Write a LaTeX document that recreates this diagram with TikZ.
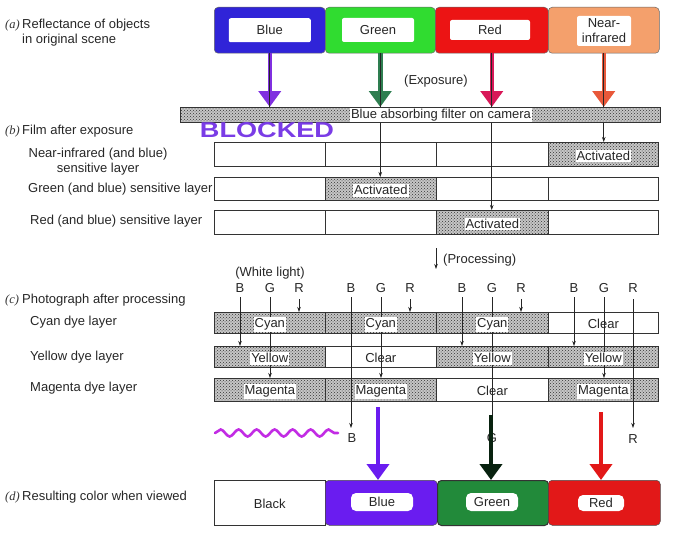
\documentclass[tikz,border=0pt]{standalone}
\usepackage{fontspec}
\setmainfont{Liberation Sans}
\newfontfamily\lserif{Liberation Serif}
\usetikzlibrary{arrows.meta,decorations.pathmorphing,patterns}
\definecolor{tBlue}{HTML}{3024D8}
\definecolor{tGreen}{HTML}{30DC30}
\definecolor{tRed}{HTML}{EC1414}
\definecolor{tNir}{HTML}{F4A06C}
\definecolor{aPurple}{HTML}{8030E0}
\definecolor{aGreen}{HTML}{2E7E50}
\definecolor{aRed}{HTML}{D81858}
\definecolor{aNir}{HTML}{E8583A}
\definecolor{bBlue}{HTML}{6A1CF0}
\definecolor{bGreen}{HTML}{228A3A}
\definecolor{bRed}{HTML}{E21818}
\definecolor{blk}{HTML}{7A3CE6}
\definecolor{wave}{HTML}{C22CE4}
\tikzset{
  txt/.style={font=\fontsize{13}{15}\selectfont, inner sep=0pt, text=black!85, yshift=-1.5pt},
  sec/.style={font=\lserif\itshape\fontsize{12.5}{15}\selectfont, inner sep=0pt, text=black!80, yshift=-1.5pt},
  cell/.style={draw=black!80, line width=0.6pt, anchor=north west, inner sep=0pt},
  stip/.style={fill=gray!45, postaction={pattern=crosshatch dots, pattern color=black!80}},
  tag/.style={txt, fill=white, inner xsep=1pt, inner ysep=1.5pt},
  ray/.style={line width=0.55pt, black!85, -{Stealth[length=5pt,width=3.5pt]}},
  line/.style={line width=0.55pt, black!85},
  topbox/.style={anchor=north west, minimum width=#1, minimum height=46pt, rounded corners=4pt, draw=black!60, line width=0.5pt},
  inlab/.style={txt, fill=white, rounded corners=2pt},
  fat/.style={line width=4.5pt, -{Triangle[length=16pt,width=22pt]}},
}
\begin{document}
\begin{tikzpicture}[x=1pt,y=-1pt]
\useasboundingbox (0,0) rectangle (680,535);
% ---------- (a)
\node[sec, anchor=west] (sa) at (5,24) {(a)};
\node[txt, anchor=west, align=left] (ta) at (22,31.5) {Reflectance of objects\\in original scene};
\node[topbox=111pt, fill=tBlue] (aB) at (214,7) {};
\node[topbox=110pt, fill=tGreen] (aG) at (325,7) {};
\node[topbox=113pt, fill=tRed] (aR) at (435,7) {};
\node[topbox=111pt, fill=tNir] (aN) at (548,7) {};
\node[inlab, minimum width=82pt, minimum height=24pt, yshift=1.5pt] (aBl) at (aB.center) {Blue};
\node[inlab, minimum width=72pt, minimum height=24pt, yshift=1.5pt] (aGl) at (378,30) {Green};
\node[inlab, minimum width=80pt, minimum height=20pt, yshift=1.5pt] (aRl) at (490,30) {Red};
\node[inlab, minimum width=54pt, minimum height=30pt, align=center, yshift=1.5pt] (aNl) at (604,31) {Near-\\infrared};
\node[txt] (expo) at (436,80) {(Exposure)};
% filter
\node[cell, stip, minimum width=480pt, minimum height=15pt] (filt) at (180,107) {};
\node[tag, inner ysep=1pt, yshift=1.5pt] (filtl) at (441,115) {Blue absorbing filter on camera};
% hand-drawn arrows top
\draw[fat, aPurple] (aB.south) -- (aB.south |- filt.north);
\draw[fat, aGreen] (aG.south) -- (aG.south |- filt.north);
\draw[fat, aRed] (aR.south) -- (aR.south |- filt.north);
\draw[fat, aNir] (aN.south) -- (aN.south |- filt.north);
\draw[line] (aB.south) -- (aB.south |- filt.north);
\draw[line] (aG.south) -- (aG.south |- filt.north);
\draw[line] (aR.south) -- (aR.south |- filt.north);
\draw[line] (aN.south) -- (aN.south |- filt.north);
\node[inner sep=0pt, text=blk] (blocked) at (267,130) {\resizebox{134pt}{15pt}{\bfseries BLOCKED}};
% ---------- (b)
\node[sec, anchor=west] (sb) at (5,130) {(b)};
\node[txt, anchor=west] (tb) at (22,130) {Film after exposure};
\node[txt, align=center] (lb1) at (98,160) {Near-infrared (and blue)\\sensitive layer};
\node[txt, anchor=west] (lb2) at (28,188) {Green (and blue) sensitive layer};
\node[txt, anchor=west] (lb3) at (30,220) {Red (and blue) sensitive layer};
% row 1
\node[cell, minimum width=111pt, minimum height=24pt] (b11) at (214,142) {};
\node[cell, minimum width=111pt, minimum height=24pt] (b12) at (325,142) {};
\node[cell, minimum width=112pt, minimum height=24pt] (b13) at (436,142) {};
\node[cell, stip, minimum width=110pt, minimum height=24pt] (b14) at (548,142) {};
\node[tag] at (b14.center) {Activated};
% row 2
\node[cell, minimum width=111pt, minimum height=23pt] (b21) at (214,177) {};
\node[cell, stip, minimum width=111pt, minimum height=23pt] (b22) at (325,177) {};
\node[cell, minimum width=112pt, minimum height=23pt] (b23) at (436,177) {};
\node[cell, minimum width=110pt, minimum height=23pt] (b24) at (548,177) {};
\node[tag] at (b22.center) {Activated};
% row 3
\node[cell, minimum width=111pt, minimum height=24pt] (b31) at (214,210) {};
\node[cell, minimum width=111pt, minimum height=24pt] (b32) at (325,210) {};
\node[cell, stip, minimum width=112pt, minimum height=24pt] (b33) at (436,210) {};
\node[cell, minimum width=110pt, minimum height=24pt] (b34) at (548,210) {};
\node[tag] at (b33.center) {Activated};
% exposure rays
\draw[ray] (aG.south |- filt.south) -- (aG.south |- b22.north);
\draw[ray] (aR.south |- filt.south) -- (aR.south |- b33.north);
\draw[ray] (aN.south |- filt.south) -- (aN.south |- b14.north);
% processing
\coordinate (p1) at (436,248);
\coordinate (p2) at (436,269);
\draw[ray] (p1) -- (p2);
\node[txt, anchor=west] (proc) at (443,259) {(Processing)};
% ---------- (c)
\node[sec, anchor=west] (sc) at (5,299) {(c)};
\node[txt, anchor=west] (tc) at (22,299) {Photograph after processing};
\node[txt, anchor=west] (lc1) at (30,321) {Cyan dye layer};
\node[txt, anchor=west] (lc2) at (30,356) {Yellow dye layer};
\node[txt, anchor=west] (lc3) at (30,387) {Magenta dye layer};
\node[txt] (wl) at (270,272) {(White light)};
% cyan row
\node[cell, stip, minimum width=111pt, minimum height=21pt] (c11) at (214,312) {};
\node[cell, stip, minimum width=111pt, minimum height=21pt] (c12) at (325,312) {};
\node[cell, stip, minimum width=112pt, minimum height=21pt] (c13) at (436,312) {};
\node[cell, minimum width=110pt, minimum height=21pt] (c14) at (548,312) {};
% yellow row
\node[cell, stip, minimum width=111pt, minimum height=21pt] (c21) at (214,346) {};
\node[cell, minimum width=111pt, minimum height=21pt] (c22) at (325,346) {};
\node[cell, stip, minimum width=112pt, minimum height=21pt] (c23) at (436,346) {};
\node[cell, stip, minimum width=110pt, minimum height=21pt] (c24) at (548,346) {};
% magenta row
\node[cell, stip, minimum width=111pt, minimum height=23pt] (c31) at (214,378) {};
\node[cell, stip, minimum width=111pt, minimum height=23pt] (c32) at (325,378) {};
\node[cell, minimum width=112pt, minimum height=23pt] (c33) at (436,378) {};
\node[cell, stip, minimum width=110pt, minimum height=23pt] (c34) at (548,378) {};
% light letters and rays
\foreach \k/\x in {1/214,2/325,3/436,4/548}{
  \node[txt] (LB\k) at (\x+26,287) {B};
  \node[txt] (LG\k) at (\x+56,287) {G};
  \node[txt] (LR\k) at (\x+85,287) {R};
  \coordinate (B\k) at (\x+26,297);
  \coordinate (G\k) at (\x+56,297);
  \coordinate (R\k) at (\x+85,299);
}
% cell 1: black
\draw[ray] (B1) -- (B1 |- c21.north);
\draw[ray] (G1) -- (G1 |- c31.north);
\draw[ray] (R1) -- (R1 |- c11.north);
% cell 2: blue
\coordinate (Bend) at (351,428);
\draw[ray] (B2) -- (Bend);
\draw[ray] (G2) -- (G2 |- c32.north);
\draw[ray] (R2) -- (R2 |- c12.north);
% cell 3: green
\coordinate (Gend) at (492,428);
\draw[ray] (B3) -- (B3 |- c23.north);
\draw[line] (G3) -- (Gend);
\draw[ray] (R3) -- (R3 |- c13.north);
% cell 4: red
\coordinate (Rend) at (633,428);
\draw[ray] (B4) -- (B4 |- c24.north);
\draw[ray] (G4) -- (G4 |- c34.north);
\draw[ray] (R4) -- (Rend);
% cell labels (over rays)
\node[tag] at (c11.center) {Cyan};
\node[tag] at (c12.center) {Cyan};
\node[tag] at (c13.center) {Cyan};
\node[txt] at (c14.center) {Clear};
\node[tag] at (c21.center) {Yellow};
\node[tag, fill=none] at (c22.center) {Clear};
\node[tag] at (c23.center) {Yellow};
\node[tag] at (c24.center) {Yellow};
\node[tag] at (c31.center) {Magenta};
\node[tag] at (c32.center) {Magenta};
\node[tag, fill=none] at (c33.center) {Clear};
\node[tag] at (c34.center) {Magenta};
\node[txt] (oB) at (352,437) {B};
\node[txt] (oG) at (492,437) {G};
\node[txt] (oR) at (633,438) {R};
% wave
\coordinate (w1) at (215,433);
\coordinate (w2) at (338,433);
\draw[wave, line width=2.6pt, line cap=round, decorate, decoration={snake, amplitude=3.5pt, segment length=18pt}] (w1) -- (w2);
% ---------- (d)
\node[sec, anchor=west] (sd) at (5,496) {(d)};
\node[txt, anchor=west] (td) at (22,496) {Resulting color when viewed};
\node[cell, minimum width=111pt, minimum height=45pt] (d1) at (214,480) {};
\node[topbox=112pt, minimum height=45pt, fill=bBlue, draw=black!70] (d2) at (325,480) {};
\node[topbox=111pt, minimum height=45pt, fill=bGreen, draw=black!80, line width=1pt] (d3) at (437,480) {};
\node[topbox=112pt, minimum height=45pt, fill=bRed, draw=black!70] (d4) at (548,480) {};
\node[txt] at (d1.center) {Black};
\node[inlab, minimum width=62pt, minimum height=18pt, rounded corners=5pt, yshift=1.5pt] at (382,502) {Blue};
\node[inlab, minimum width=52pt, minimum height=18pt, rounded corners=5pt, yshift=1.5pt] at (492,502) {Green};
\node[inlab, minimum width=46pt, minimum height=16pt, rounded corners=5pt, yshift=1.5pt] at (601,503) {Red};
% hand-drawn arrows bottom
\coordinate (hp) at (378,407);
\coordinate (hg) at (491,415);
\coordinate (hr) at (601,412);
\draw[fat, bBlue] (hp) -- (hp |- d2.north);
\draw[fat, black!75!bGreen] (hg) -- (hg |- d3.north);
\draw[fat, bRed] (hr) -- (hr |- d4.north);
\end{tikzpicture}
\end{document}
